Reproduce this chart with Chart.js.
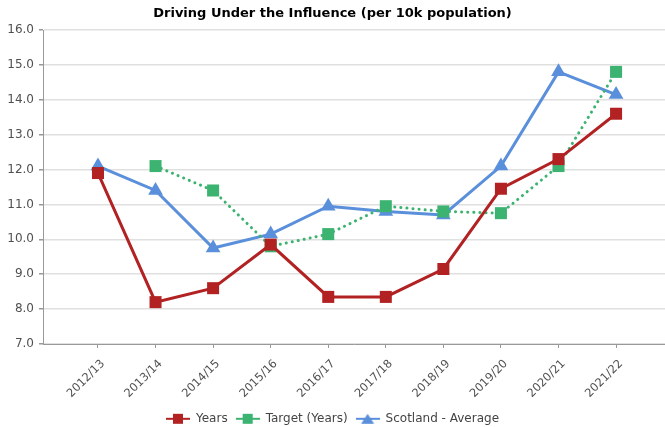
<!DOCTYPE html>
<html>
<head>
<meta charset="utf-8">
<script src="https://cdn.jsdelivr.net/npm/chart.js@4/dist/chart.umd.min.js"></script>
<style>
  html, body { margin: 0; padding: 0; background: #fff; }
  #wrap { width: 665px; height: 427px; }
</style>
</head>
<body>
<div id="wrap"><canvas id="myChart" width="665" height="427"></canvas></div>
<script>
var labels = ['2012/13', '2013/14', '2014/15', '2015/16', '2016/17', '2017/18', '2018/19', '2019/20', '2020/21', '2021/22'];
var years = [11.9, 8.2, 8.6, 9.85, 8.35, 8.35, 9.15, 11.45, 12.3, 13.6];
var target = [null, 12.1, 11.4, 9.8, 10.15, 10.95, 10.8, 10.75, 12.1, 14.8];
var scotland = [12.1, 11.4, 9.75, 10.15, 10.95, 10.8, 10.7, 12.1, 14.8, 14.15];
var yTicks = [7, 8, 9, 10, 11, 12, 13, 14, 15, 16];

var red = '#b22222';
var green = '#3cb371';
var blue = '#5a8fdb';

// turn a series into {x: index, y: value} points
function toPoints(arr) {
  var out = [];
  arr.forEach(function(v, i) {
    if (v !== null) out.push({ x: i, y: v });
  });
  return out;
}

// little legend icon: line with the marker in the middle
function legendIcon(color, shape) {
  var c = document.createElement('canvas');
  c.width = 24; c.height = 12;
  var g = c.getContext('2d');
  g.strokeStyle = color;
  g.lineWidth = 2;
  g.beginPath(); g.moveTo(0, 6); g.lineTo(24, 6); g.stroke();
  g.fillStyle = color;
  if (shape === 'triangle') {
    g.beginPath(); g.moveTo(12, 1); g.lineTo(18.5, 11); g.lineTo(5.5, 11); g.closePath(); g.fill();
  } else {
    g.fillRect(7, 1, 10, 10);
  }
  return c;
}

var icons = [legendIcon(red, 'rect'), legendIcon(green, 'rect'), legendIcon(blue, 'triangle')];

// no extra room for overflowing tick labels
function noPadding(scale) {
  scale.paddingLeft = 0;
  scale.paddingRight = 0;
  scale.paddingTop = 0;
  scale.paddingBottom = 0;
}

var ctx = document.getElementById('myChart');
var myChart = new Chart(ctx, {
  type: 'line',
  data: {
    datasets: [{
      label: 'Years',
      data: toPoints(years),
      borderColor: red,
      backgroundColor: red,
      borderWidth: 3,
      pointStyle: 'rect',
      pointRadius: 8.5,
      pointBorderWidth: 0
    }, {
      label: 'Target (Years)',
      data: toPoints(target),
      borderColor: green,
      backgroundColor: green,
      borderWidth: 3,
      borderDash: [0.1, 6],
      borderCapStyle: 'round',
      pointStyle: 'rect',
      pointRadius: 8.5,
      pointBorderWidth: 0
    }, {
      label: 'Scotland - Average',
      data: toPoints(scotland),
      borderColor: blue,
      backgroundColor: blue,
      borderWidth: 3,
      pointStyle: 'triangle',
      pointRadius: 8.5,
      pointBorderWidth: 0
    }]
  },
  options: {
    responsive: false,
    animation: false,
    maintainAspectRatio: false,
    layout: { padding: 0, autoPadding: false },
    plugins: {
      title: {
        display: true,
        text: 'Driving Under the Influence (per 10k population)',
        color: '#000',
        font: { family: 'DejaVu Sans', size: 13, weight: 'bold' },
        padding: { top: 6, bottom: 8.4 }
      },
      legend: {
        position: 'bottom',
        maxHeight: 22.2,
        labels: {
          usePointStyle: true,
          pointStyleWidth: 24,
          color: '#444',
          padding: 8,
          font: { family: 'DejaVu Sans', size: 12 },
          generateLabels: function(chart) {
            return chart.data.datasets.map(function(ds, i) {
              return {
                text: ds.label,
                pointStyle: icons[i],
                fillStyle: ds.borderColor,
                strokeStyle: ds.borderColor,
                fontColor: '#444',
                lineWidth: 0,
                hidden: false,
                datasetIndex: i
              };
            });
          }
        }
      },
      tooltip: { enabled: false }
    },
    scales: {
      x: {
        type: 'linear',
        min: -0.955,
        max: 9.85,
        afterBuildTicks: function(scale) {
          scale.ticks = labels.map(function(l, i) { return { value: i }; });
        },
        afterFit: function(scale) {
          scale.height = 60.8;
          noPadding(scale);
        },
        ticks: {
          autoSkip: false,
          maxRotation: 45,
          minRotation: 45,
          color: '#505050',
          padding: 9,
          labelOffset: 5,
          font: { family: 'DejaVu Sans', size: 11.5 },
          callback: function(v) { return labels[v]; }
        },
        grid: { drawOnChartArea: false, tickLength: 4, color: '#999' },
        border: { color: '#999', width: 1 }
      },
      y: {
        min: 7,
        max: 16,
        afterBuildTicks: function(scale) {
          scale.ticks = yTicks.map(function(v) { return { value: v }; });
        },
        afterFit: function(scale) {
          scale.width = 43;
          noPadding(scale);
        },
        ticks: {
          color: '#505050',
          padding: 5,
          font: { family: 'DejaVu Sans', size: 12 },
          callback: function(v) { return v.toFixed(1); }
        },
        grid: { color: '#e0e0e0', lineWidth: 1.5, tickLength: 4, tickColor: '#999' },
        border: { color: '#999', width: 1 }
      }
    }
  }
});
</script>
</body>
</html>
